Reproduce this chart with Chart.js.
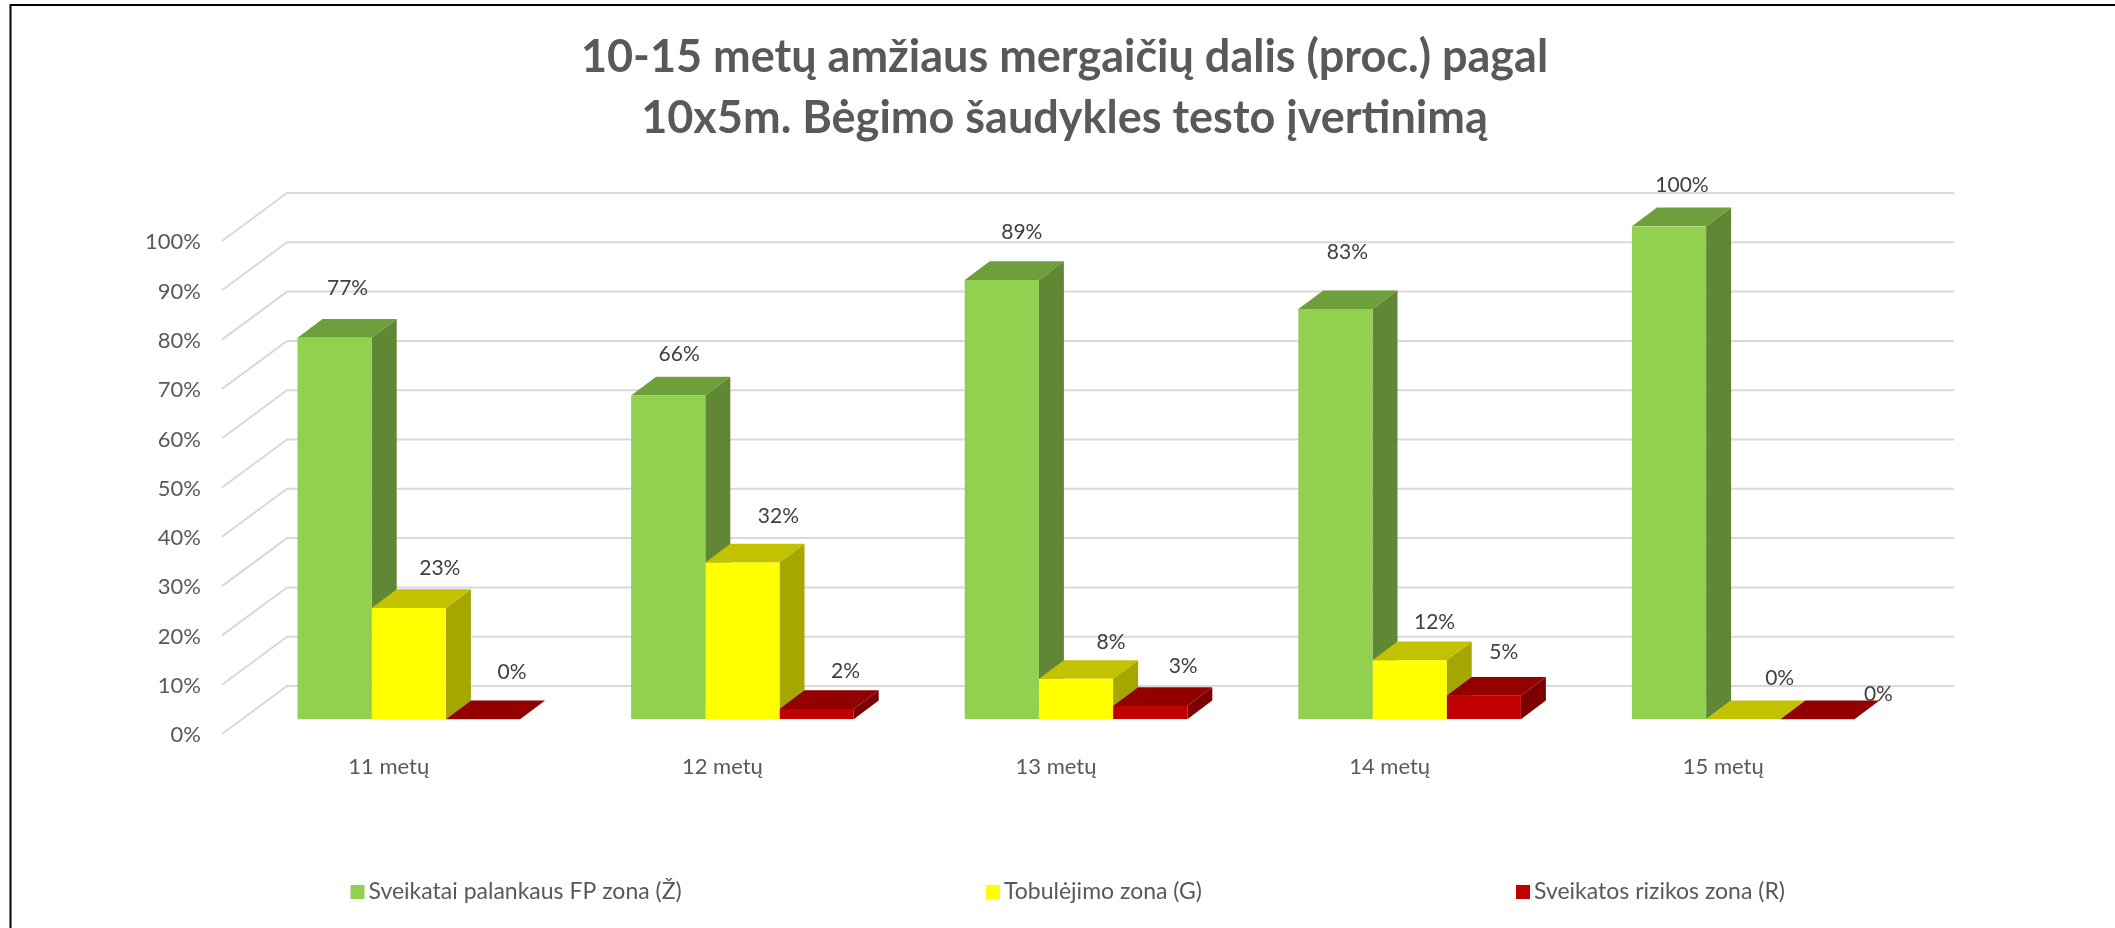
<!DOCTYPE html>
<html><head><meta charset="utf-8">
<style>html,body{margin:0;padding:0;background:#fff}canvas{display:block}</style>
<script src="https://cdn.jsdelivr.net/npm/chart.js@4/dist/chart.umd.js"></script>
</head><body>
<div style="width:2115px;height:928px"><canvas id="c" width="2115" height="928"></canvas></div>
<script>
const categories = ["11 metų","12 metų","13 metų","14 metų","15 metų"];
const seriesNames = ["Sveikatai palankaus FP zona (Ž)","Tobulėjimo zona (G)","Sveikatos rizikos zona (R)"];
const zoneGreen = [77.4,65.7,89.1,83.2,100];
const zoneYellow = [22.6,31.8,8.2,12,0];
const zoneRed = [0,2.1,2.7,4.8,0];
const axisTicks = [0,10,20,30,40,50,60,70,80,90,100];
const titleLines = ["10-15 metų amžiaus mergaičių dalis (proc.) pagal","10x5m. Bėgimo šaudykles testo įvertinimą"];

const FONT = 'Lato, Carlito, Calibri, sans-serif';
const frontColors = ['#92D050','#FFFF00','#C00000'];
const topColors   = ['#6F9E3D','#C2C200','#920000'];
const sideColors  = ['#5F8734','#A6A600','#7D0000'];
const DEPTH_X = 25, DEPTH_Y = 18.7;          // bar depth
const WALL_BACK_X = 45, WALL_BACK_Y = 33.3;  // plane of bars -> back wall
const WALL_FRONT_X = 20, WALL_FRONT_Y = 14.7;// plane of bars -> front edge of floor
const GRID_RIGHT = 1954;
// label nudges relative to the top-centre of the bar front face [series][category]
const labelNudges = [
 [[13,-49],[11,-41],[20,-47.5],[12,-56.5],[13,-41.5]],
 [[31,-40],[36,-46.5],[35,-36.5],[25,-37.5],[36.5,-41.5]],
 [[29,-47],[29,-37.5],[33,-39.5],[20,-43],[61,-25.5]]
];

const chart3d = {
  id:'chart3d',
  beforeDatasetsDraw(chart){
    const {ctx,scales:{x,y}} = chart;
    ctx.save();
    ctx.strokeStyle='#D9D9D9'; ctx.lineWidth=2;
    axisTicks.forEach(t=>{
      const py=y.getPixelForValue(t);
      const bx=x.left+WALL_BACK_X, by=py-WALL_BACK_Y;
      ctx.beginPath();
      ctx.moveTo(x.left-WALL_FRONT_X,py+WALL_FRONT_Y);
      ctx.lineTo(bx,by);
      ctx.lineTo(GRID_RIGHT,by);
      ctx.stroke();
    });
    const metas=chart.data.datasets.map((d,i)=>chart.getDatasetMeta(i));
    categories.forEach((c,ci)=>{
      metas.forEach((m,si)=>{
        const b=m.data[ci]; const l=b.x-b.width/2, r=b.x+b.width/2, t=b.y, base=b.base;
        ctx.fillStyle=sideColors[si];
        ctx.beginPath();ctx.moveTo(r,t);ctx.lineTo(r+DEPTH_X,t-DEPTH_Y);ctx.lineTo(r+DEPTH_X,base-DEPTH_Y);ctx.lineTo(r,base);ctx.closePath();ctx.fill();
        ctx.fillStyle=topColors[si];
        ctx.beginPath();ctx.moveTo(l,t);ctx.lineTo(l+DEPTH_X,t-DEPTH_Y);ctx.lineTo(r+DEPTH_X,t-DEPTH_Y);ctx.lineTo(r,t);ctx.closePath();ctx.fill();
      });
    });
    ctx.restore();
  },
  afterDraw(chart){
    const {ctx}=chart;
    ctx.save();
    ctx.font='21px '+FONT; ctx.fillStyle='#404040'; ctx.textAlign='center'; ctx.textBaseline='middle';
    chart.data.datasets.forEach((d,si)=>{
      const m=chart.getDatasetMeta(si);
      d.data.forEach((v,ci)=>{
        const b=m.data[ci], n=labelNudges[si][ci];
        ctx.fillText(Math.round(v)+'%', b.x+n[0], b.y+n[1]);
      });
    });
    const legendX=[350.5,986,1516], LEG_Y=892;
    ctx.font='23px '+FONT; ctx.textAlign='left';
    seriesNames.forEach((s,i)=>{
      ctx.fillStyle=frontColors[i];
      ctx.fillRect(legendX[i],LEG_Y-7,14,14);
      ctx.fillStyle='#595959';
      ctx.fillText(s,legendX[i]+18,LEG_Y);
    });
    ctx.strokeStyle='#000'; ctx.lineWidth=2;
    ctx.beginPath();ctx.moveTo(10.5,928);ctx.lineTo(10.5,5);ctx.lineTo(2115,5);ctx.stroke();
    ctx.restore();
  }
};

new Chart(document.getElementById('c'),{
  type:'bar',
  data:{labels:categories,datasets:[
    {label:seriesNames[0],data:zoneGreen,backgroundColor:frontColors[0]},
    {label:seriesNames[1],data:zoneYellow,backgroundColor:frontColors[1]},
    {label:seriesNames[2],data:zoneRed,backgroundColor:frontColors[2]}
  ]},
  options:{
    responsive:false,animation:false,
    categoryPercentage:0.6672,barPercentage:1,
    layout:{padding:{left:14,right:0,top:0,bottom:0}},
    plugins:{
      legend:{display:false},tooltip:{enabled:false},
      title:{display:true,text:titleLines,color:'#595959',
        font:{family:FONT,size:45,weight:'bold',lineHeight:1.35},
        padding:{top:27.6,bottom:77.2}}
    },
    scales:{
      x:{grid:{display:false,drawTicks:false},border:{display:false},
        afterFit(s){s.height=208.7;},
        ticks:{color:'#595959',font:{family:FONT,size:22},padding:34,labelOffset:-20,maxRotation:0,autoSkip:false}},
      y:{min:0,max:100,grid:{display:false,drawTicks:false},border:{display:false},
        afterFit(s){s.width=228;},
        afterBuildTicks(s){s.ticks=axisTicks.map(v=>({value:v}));},
        ticks:{color:'#595959',font:{family:FONT,size:22},padding:41,labelOffset:16,callback:v=>v+'%'}},
      rightSpacer:{position:'right',grid:{display:false,drawTicks:false},border:{display:false},
        afterFit(s){s.width=205;},ticks:{display:false}}
    }
  },
  plugins:[chart3d]
});
</script>
</body></html>
